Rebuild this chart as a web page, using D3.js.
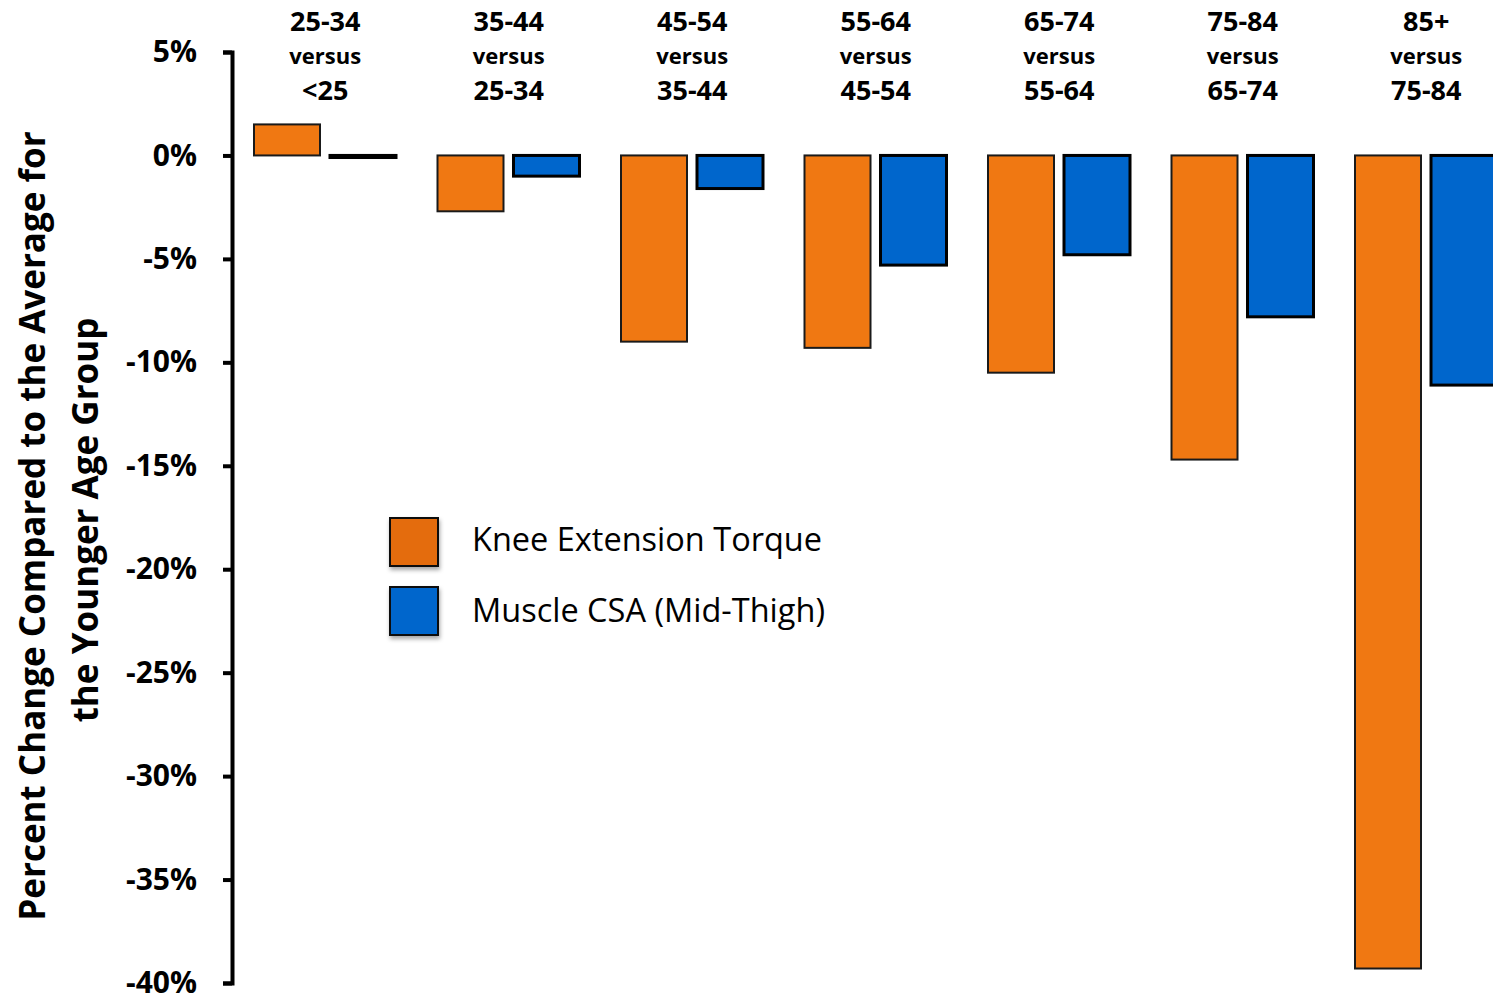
<!DOCTYPE html>
<html>
<head>
<meta charset="utf-8">
<script src="https://cdn.jsdelivr.net/npm/d3@7"></script>
<style>
  html, body { margin: 0; padding: 0; background: #fff; }
  svg { display: block; font-family: "Open Sans", "Noto Sans", sans-serif; }
</style>
</head>
<body>
<svg id="chart" width="1493" height="996"></svg>
<script>
// Age-group comparisons (each older group versus the next younger one)
const groupTop = ["25-34", "35-44", "45-54", "55-64", "65-74", "75-84", "85+"];
const groupBottom = ["<25", "25-34", "35-44", "45-54", "55-64", "65-74", "75-84"];
const seriesNames = ["Knee Extension Torque", "Muscle CSA (Mid-Thigh)"];
// Percent change compared to the average for the younger age group
const kneeTorque = [1.5, -2.7, -9.0, -9.3, -10.5, -14.7, -39.3];
const muscleCSA = [-0.1, -1.0, -1.6, -5.3, -4.8, -7.8, -11.1];
const yTicks = [5, 0, -5, -10, -15, -20, -25, -30, -35, -40];

const svg = d3.select("#chart");
const fills = ["#F07812", "#0066CC"];
const legendFills = ["#E46C0A", "#0066CC"];
const strokes = ["#1a1a1a", "#000"];
const strokeW = [2, 3];

const x0 = d3.scaleBand().domain(d3.range(groupTop.length)).range([233.5, 233.5 + 7 * 183.5]).padding(0);
const x1 = d3.scaleBand().domain(seriesNames).range([20.5, 162.5]).paddingInner(10 / 76).paddingOuter(0);
const y = d3.scaleLinear().domain([5, -40]).range([52, 983]);

const defs = svg.append("defs");
const sh = defs.append("filter").attr("id", "shadow").attr("x", "-30%").attr("y", "-30%").attr("width", "160%").attr("height", "160%");
sh.append("feDropShadow").attr("dx", 1).attr("dy", 3).attr("stdDeviation", 2).attr("flood-color", "#000").attr("flood-opacity", 0.35);

// Bars
const data = groupTop.map((g, i) => ({ i, vals: [kneeTorque[i], muscleCSA[i]] }));
const groups = svg.append("g").selectAll("g").data(data).join("g")
  .attr("transform", d => `translate(${x0(d.i)},0)`);
groups.selectAll("rect").data(d => d.vals.map((v, k) => ({ v, k })))
  .join("rect")
  .attr("x", d => x1(seriesNames[d.k]))
  .attr("width", x1.bandwidth())
  .attr("y", d => y(Math.max(0, d.v)))
  .attr("height", d => Math.abs(y(d.v) - y(0)))
  .attr("fill", d => fills[d.k])
  .attr("stroke", d => strokes[d.k])
  .attr("stroke-width", d => strokeW[d.k]);

// Category labels above the plot
const labels = svg.append("g").attr("font-weight", "bold").attr("text-anchor", "middle").attr("fill", "#000");
groupTop.forEach((g, i) => {
  const cx = x0(i) + x0.bandwidth() / 2;
  labels.append("text").attr("x", cx).attr("y", 31).attr("font-size", 27).text(g);
  labels.append("text").attr("x", cx).attr("y", 64).attr("font-size", 22).text("versus");
  labels.append("text").attr("x", cx).attr("y", 100).attr("font-size", 27).text(groupBottom[i]);
});

// Y axis
const axis = svg.append("g").attr("transform", "translate(232,0)")
  .call(d3.axisLeft(y).tickValues(yTicks).tickFormat(d => d + "%").tickSize(9).tickPadding(26));
axis.selectAll("path, line").attr("stroke", "#000").attr("stroke-width", 4);
axis.selectAll("text").attr("font-size", 30).attr("font-weight", "bold").attr("fill", "#000")
  .attr("font-family", "\"Open Sans\", \"Noto Sans\", sans-serif");

// Y axis title
const title = svg.append("text").attr("transform", "rotate(-90)").attr("text-anchor", "middle")
  .attr("font-weight", "bold").attr("font-size", 35).attr("fill", "#000");
title.append("tspan").attr("x", -526).attr("y", 45).text("Percent Change Compared to the Average for");
title.append("tspan").attr("x", -520).attr("y", 98).text("the Younger Age Group");

// Legend
const legend = svg.append("g").attr("transform", "translate(390,518)");
seriesNames.forEach((name, k) => {
  const g = legend.append("g").attr("transform", `translate(0,${k * 69})`);
  g.append("rect").attr("width", 48).attr("height", 48)
    .attr("fill", legendFills[k]).attr("stroke", "#111").attr("stroke-width", 2)
    .attr("filter", "url(#shadow)");
  g.append("text").attr("x", 82).attr("y", 33 + k * 2).attr("font-size", 32.5).attr("fill", "#000").text(name);
});
</script>
</body>
</html>
